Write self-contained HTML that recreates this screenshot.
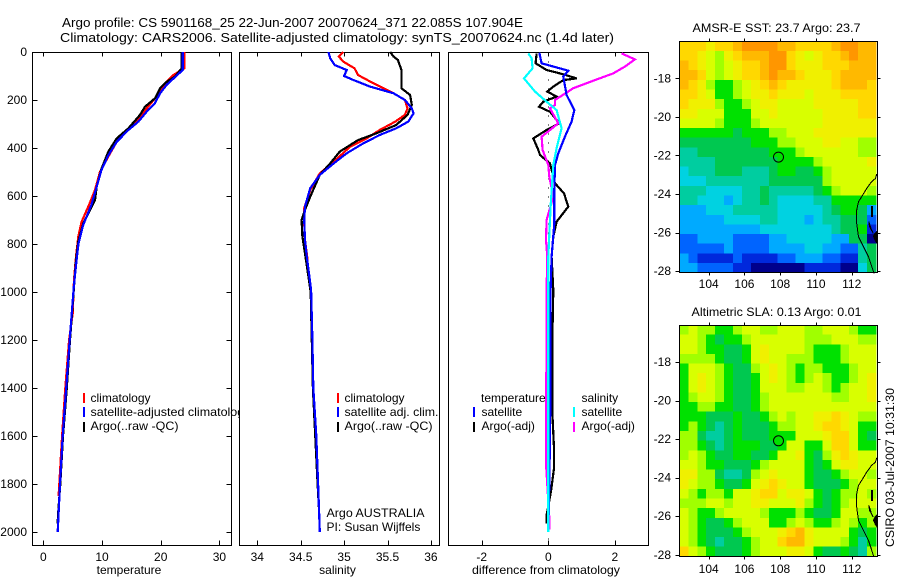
<!DOCTYPE html>
<html>
<head>
<meta charset="utf-8">
<title>Argo profile chart</title>
<style>
html,body{margin:0;padding:0;background:#fff;width:900px;height:580px;overflow:hidden}
svg{display:block}
text{font-family:"Liberation Sans",sans-serif;font-size:12px;fill:#000}
text.big{font-size:13px}
</style>
</head>
<body>
<svg id="chart" xmlns="http://www.w3.org/2000/svg" width="900" height="580" viewBox="0 0 900 580">
  <rect x="0" y="0" width="900" height="580" fill="#fff"/>
  <text class="big" x="62" y="27" textLength="461" lengthAdjust="spacingAndGlyphs">Argo profile: CS 5901168_25 22-Jun-2007 20070624_371 22.085S 107.904E</text>
  <text class="big" x="60" y="42" textLength="554" lengthAdjust="spacingAndGlyphs">Climatology: CARS2006. Satellite-adjusted climatology: synTS_20070624.nc (1.4d later)</text>

  <g id="tempPanel">
    <g id="tempAxes"></g>
    <g id="tempSeries"></g>
    <g>
      <rect x="83" y="393" width="2" height="10" fill="#ff0000"/>
      <text x="90.5" y="402">climatology</text>
      <rect x="83" y="407" width="2" height="10" fill="#0000ff"/>
      <text x="90.5" y="416" textLength="160" lengthAdjust="spacingAndGlyphs">satellite-adjusted climatology</text>
      <rect x="83" y="422" width="2" height="10" fill="#000000"/>
      <text x="90.5" y="430" textLength="88" lengthAdjust="spacingAndGlyphs">Argo(..raw -QC)</text>
    </g>
    <text x="129" y="574" text-anchor="middle">temperature</text>
  </g>

  <g id="salPanel">
    <rect x="239" y="46" width="210" height="512" fill="#fff"/>
    <g id="salAxes"></g>
    <g id="salSeries"></g>
    <g>
      <rect x="337" y="393" width="2" height="10" fill="#ff0000"/>
      <text x="344.5" y="402">climatology</text>
      <rect x="337" y="407" width="2" height="10" fill="#0000ff"/>
      <text x="344.5" y="416" textLength="94" lengthAdjust="spacingAndGlyphs">satellite adj. clim.</text>
      <rect x="337" y="422" width="2" height="10" fill="#000000"/>
      <text x="344.5" y="430" textLength="88" lengthAdjust="spacingAndGlyphs">Argo(..raw -QC)</text>
    </g>
    <text x="326.5" y="517" textLength="98" lengthAdjust="spacingAndGlyphs">Argo AUSTRALIA</text>
    <text x="326.5" y="531">PI: Susan Wijffels</text>
    <text x="337.5" y="574" text-anchor="middle">salinity</text>
  </g>

  <g id="diffPanel">
    <g id="diffAxes"></g>
    <g id="diffSeries"></g>
    <g>
      <text x="481" y="402">temperature</text>
      <rect x="473" y="407" width="2" height="10" fill="#0000ff"/>
      <text x="481.5" y="416">satellite</text>
      <rect x="473" y="422" width="2" height="10" fill="#000000"/>
      <text x="481.5" y="430">Argo(-adj)</text>
      <text x="581.5" y="402">salinity</text>
      <rect x="573" y="407" width="2" height="10" fill="#00ffff"/>
      <text x="581.5" y="416">satellite</text>
      <rect x="573" y="422" width="2" height="10" fill="#ff00ff"/>
      <text x="581.5" y="430">Argo(-adj)</text>
    </g>
    <text x="546" y="574" text-anchor="middle" textLength="148" lengthAdjust="spacingAndGlyphs">difference from climatology</text>
  </g>

  <g id="sstMap">
    <text x="692.5" y="32" textLength="168" lengthAdjust="spacingAndGlyphs">AMSR-E SST: 23.7 Argo: 23.7</text>
  </g>
  <g id="slaMap">
    <text x="691.5" y="316" textLength="170" lengthAdjust="spacingAndGlyphs">Altimetric SLA: 0.13 Argo: 0.01</text>
  </g>
  <text transform="translate(894,547) rotate(-90)" textLength="159" lengthAdjust="spacingAndGlyphs">CSIRO 03-Jul-2007 10:31:30</text>
</svg>

<script>
/* ---------- profile axes ---------- */
const depthTicks = [0, 200, 400, 600, 800, 1000, 1200, 1400, 1600, 1800, 2000];
const tempTicks = [0, 10, 20, 30];
const salTicks = [34, 34.5, 35, 35.5, 36];
const salTickLabels = ['34', '34.5', '35', '35.5', '36'];
const diffTicks = [-2, 0, 2];

/* ---------- temperature panel ---------- */
const tempClimDepth = [0, 68, 96, 131, 193, 269, 304, 374, 436, 499, 575, 644, 707, 769, 853, 950, 1089, 1200, 1400, 1600, 1800, 1850];
const tempClimValue = [24.03, 24.03, 22.16, 20.74, 19.03, 16.48, 15.06, 12.5, 11.08, 9.66, 8.8, 7.67, 6.53, 5.97, 5.57, 5.23, 5.0, 4.4, 3.75, 3.2, 2.72, 2.6];
const tempArgoDepth = [0, 68, 103, 124, 151, 193, 228, 262, 318, 360, 415, 485, 561, 617, 658, 714, 790, 867, 978, 1200, 1400, 1600, 1800, 1930, 1965];
const tempArgoValue = [23.58, 23.58, 22.44, 21.02, 19.89, 19.03, 17.33, 16.48, 14.49, 12.5, 11.08, 9.94, 9.09, 8.8, 7.95, 6.82, 5.97, 5.57, 5.23, 4.55, 4.0, 3.35, 2.9, 2.5, 2.45];
const tempSatDepth = [0, 75, 110, 137, 172, 214, 249, 290, 325, 374, 429, 492, 561, 637, 721, 797, 881, 978, 1200, 1400, 1600, 1800, 2000];
const tempSatValue = [23.75, 23.75, 22.2, 21, 19.9, 19, 17.6, 16.2, 14.5, 12.5, 11.1, 9.9, 9.1, 8.2, 6.8, 6, 5.6, 5.2, 4.5, 3.9, 3.3, 2.85, 2.45];

/* ---------- salinity panel ---------- */
const salClimDepth = [0, 19, 40, 68, 96, 131, 172, 200, 235, 262, 290, 325, 360, 394, 457, 506, 575, 651, 714, 783, 867];
const salClimValue = [34.99, 34.94, 34.99, 35.12, 35.16, 35.34, 35.57, 35.70, 35.73, 35.70, 35.59, 35.41, 35.26, 35.07, 34.88, 34.72, 34.61, 34.54, 34.54, 34.55, 34.58];
const salArgoDepth = [0, 19, 33, 75, 110, 151, 179, 221, 262, 304, 339, 367, 415, 464, 512, 603, 658, 700, 769, 839, 1000, 1400, 1800, 1900];
const salArgoValue = [35.53, 35.57, 35.62, 35.66, 35.66, 35.66, 35.76, 35.78, 35.73, 35.60, 35.37, 35.16, 34.95, 34.84, 34.72, 34.61, 34.55, 34.51, 34.52, 34.55, 34.615, 34.64, 34.695, 34.71];
const salSatDepth = [0, 26, 54, 75, 100, 117, 144, 172, 200, 235, 256, 290, 318, 346, 381, 422, 464, 512, 568, 644, 700, 783, 853, 936, 992, 1200, 1400, 1600, 1800, 2000];
const salSatValue = [34.82, 34.84, 34.89, 35.03, 35.00, 35.11, 35.30, 35.57, 35.70, 35.78, 35.80, 35.74, 35.60, 35.41, 35.22, 35.03, 34.88, 34.72, 34.61, 34.55, 34.54, 34.55, 34.57, 34.60, 34.62, 34.635, 34.645, 34.68, 34.70, 34.72];

/* ---------- difference panel ---------- */
const diffTempArgoDepth = [6, 47, 75, 93, 110, 117, 144, 165, 186, 207, 228, 249, 297, 325, 360, 408, 429, 464, 547, 589, 644, 707, 769, 853, 992, 1200, 1500, 1650, 1735, 1830, 1930, 1964];
const diffTempArgoValue = [-0.35, -0.38, -0.05, 0.45, 0.85, 0.45, 0.15, -0.03, 0.25, -0.15, -0.28, 0.05, 0.33, -0.05, -0.45, -0.30, -0.25, 0.05, 0.20, 0.47, 0.60, 0.25, 0.15, 0.10, 0.15, 0.12, 0.12, 0.17, 0.17, 0.08, -0.05, -0.05];
const diffTempSatDepth = [3, 47, 78, 103, 179, 242, 290, 353, 422, 471, 575, 714, 853, 992, 1300, 1600, 1800, 2000];
const diffTempSatValue = [-0.27, -0.20, 0.60, 0.45, 0.55, 0.78, 0.70, 0.50, 0.30, 0.20, 0.18, 0.18, 0.10, 0.07, 0.07, 0.05, 0.03, 0.0];
const diffSalArgoDepth = [6, 31, 61, 89, 117, 151, 200, 221, 235, 297, 353, 408, 471, 519, 603, 700, 783, 853, 990, 1415, 1735, 1940, 1990];
const diffSalArgoValue = [2.2, 2.6, 2.3, 1.95, 1.4, 0.75, 0.2, 0.2, 0.05, 0.3, -0.2, -0.17, 0, 0.03, 0.15, -0.05, -0.07, -0.03, -0.05, -0.06, -0.06, 0.03, 0.03];
const diffSalSatDepth = [6, 26, 68, 110, 165, 207, 242, 318, 401, 471, 644, 853, 992, 1500, 2000];
const diffSalSatValue = [-0.60, -0.50, -0.47, -0.73, -0.40, -0.05, 0.25, 0.40, 0.25, 0.15, 0.07, 0, 0, 0, 0];

/* ---------- maps ---------- */
const lonTicks = [104, 106, 108, 110, 112];
const latTicks = [-18, -20, -22, -24, -26, -28];
const argoLon = [107.904];
const argoLat = [-22.085];
const coastLon = [113.4, 113.33, 113.12, 112.84, 112.56, 112.38, 112.28, 112.28, 112.38, 112.66, 112.94, 113.25];
const coastLat = [-22.97, -23.19, -23.36, -23.71, -24.14, -24.40, -24.83, -25.53, -26.22, -26.74, -27.26, -28.12];
const islandOneLon = [113.4, 113.3, 113.22, 113.32, 113.38];
const islandOneLat = [-25.95, -26.05, -26.2, -26.42, -26.5];
const islandTwoLon = [112.95, 113.0, 113.12, 113.2, 113.1, 113.0];
const islandTwoLat = [-25.44, -25.7, -25.9, -26.04, -25.85, -25.55];
const islandThreeLon = [113.1, 113.16, 113.16, 113.1];
const islandThreeLat = [-24.66, -24.66, -25.18, -25.18];

/* colour levels, one row per half-degree of latitude */
const sstLevels = [
[11,11,11,10,11,11,12,13,13,13,13,12,12,11,11,11,11,12,13,13,12,12],
[11,11,10,9,8,10,11,12,12,12,13,13,11,10,9,10,11,11,12,13,12,12],
[12,11,10,9,8,9,10,11,11,12,13,13,11,10,10,10,11,11,11,12,12,12],
[12,12,11,9,8,9,10,11,11,12,13,12,12,11,10,10,10,11,12,12,12,12],
[12,11,10,8,7,7,8,9,10,11,12,11,10,10,10,10,10,11,12,12,12,11],
[11,11,10,9,7,7,8,9,10,10,11,10,10,10,9,10,10,10,11,11,11,11],
[11,10,10,10,8,7,7,8,9,10,10,9,9,9,9,10,10,10,10,10,11,11],
[10,10,9,9,9,7,7,7,9,9,10,9,9,9,9,9,10,10,10,10,11,11],
[9,9,9,9,8,7,7,7,8,9,9,9,9,9,9,9,10,10,10,10,10,10],
[7,7,7,7,7,7,6,7,7,7,8,8,9,9,9,10,10,10,10,10,10,10],
[6,6,6,6,6,6,6,6,7,7,7,8,8,9,9,9,10,10,9,9,8,8],
[5,5,6,6,6,6,6,6,6,6,7,7,7,8,9,9,9,9,9,9,8,8],
[5,5,5,5,6,6,6,6,6,6,6,7,7,7,7,8,9,9,9,9,9,10],
[4,5,5,5,6,6,6,5,5,5,6,7,7,6,6,7,8,9,9,9,9,9],
[4,4,4,5,5,5,5,5,5,5,6,6,6,6,6,6,8,9,9,9,9,9],
[5,5,5,4,4,4,4,5,5,6,5,5,5,5,5,6,7,8,9,9,9,8],
[5,5,4,4,4,3,4,5,5,6,5,4,4,4,4,5,5,7,7,7,7,7],
[3,3,3,4,4,4,5,5,5,5,5,4,4,4,4,4,5,6,7,7,6,3],
[3,3,3,3,3,4,4,4,4,5,5,4,4,4,3,4,5,5,6,6,6,2],
[3,3,3,3,3,3,3,3,3,4,4,4,4,4,4,4,4,5,6,6,7,1],
[2,2,3,3,3,3,2,2,2,2,3,3,4,4,4,4,4,3,3,6,6,0],
[2,2,2,2,2,3,2,2,2,2,3,3,3,3,4,4,3,3,2,2,5,6],
[3,2,1,1,1,1,2,1,1,1,1,2,2,3,3,3,2,2,1,1,5,6],
[3,3,2,2,2,2,1,1,0,0,0,0,0,0,1,1,1,1,0,0,4,6]
];
const slaLevels = [
[8,9,8,8,7,7,8,9,9,8,8,9,9,9,8,8,9,9,9,8,7,7],
[9,9,8,7,6,7,7,8,9,9,9,9,9,9,8,8,8,9,9,9,8,8],
[9,9,8,7,7,6,6,7,9,10,9,9,9,9,8,7,7,7,8,9,9,9],
[8,8,8,8,7,6,6,7,9,10,9,9,8,8,8,7,7,7,8,9,9,9],
[7,9,9,9,8,7,6,6,8,9,10,9,8,7,8,8,7,7,7,8,9,9],
[7,9,10,9,8,7,6,6,7,9,10,9,8,7,8,9,8,7,7,8,9,10],
[7,9,10,9,8,7,6,6,7,9,9,9,8,8,9,9,8,7,8,9,9,10],
[7,8,9,9,8,7,6,6,7,8,9,9,9,9,9,9,9,8,8,9,9,10],
[7,7,8,8,7,7,6,6,7,8,9,9,9,9,9,9,9,9,9,9,9,9],
[7,7,7,6,6,6,7,6,6,7,8,9,8,9,9,10,10,11,10,9,8,8],
[7,8,7,6,5,6,7,6,6,6,7,8,8,9,9,10,11,11,10,9,7,7],
[8,8,6,5,5,6,7,6,6,6,7,7,7,9,9,9,10,11,11,9,7,6],
[8,8,7,6,5,6,7,7,7,6,6,7,9,9,7,7,9,11,11,9,7,7],
[8,9,8,7,6,6,7,7,6,6,7,9,9,10,7,6,8,10,11,10,9,9],
[9,9,8,7,7,6,6,6,7,8,9,9,9,9,7,6,7,9,10,10,9,9],
[10,10,8,8,6,5,5,6,8,9,10,9,9,9,7,6,6,7,8,9,9,8],
[10,9,8,8,7,6,6,7,9,10,11,10,9,9,7,6,6,6,7,8,9,9],
[9,8,7,8,8,7,9,9,10,11,11,9,10,10,9,7,6,7,8,8,9,8],
[8,8,8,9,9,8,9,9,10,10,9,9,9,10,8,7,6,7,8,9,9,9],
[9,8,7,7,8,9,9,9,9,8,7,7,7,8,7,6,6,7,9,9,8,8],
[9,8,7,6,6,7,8,9,9,9,7,7,8,9,8,7,7,8,9,8,7,8],
[9,8,7,6,6,6,7,8,9,9,9,10,11,12,10,9,9,9,9,7,6,7],
[9,8,7,6,5,6,6,7,8,9,9,11,12,12,10,9,9,9,8,7,5,7],
[11,9,8,7,6,6,6,7,8,9,9,9,10,10,9,7,6,6,7,6,5,8]
];
const colourScale = ['#00008c','#0028dc','#0064ff','#00aaff','#00d2e1','#00cda0','#00c850','#00e100','#a0ff00','#d8ff00','#f0f000','#ffd800','#ffb900','#ff9600'];

/* ---------- drawing ---------- */
const NS = 'http://www.w3.org/2000/svg';
const depthY = d => 52 + d * 0.24;
const tempX = v => 43.3 + v * 5.87;
const salX = v => 257.3 + (v - 34) * 86.8;
const diffX = v => 548.3 + v * 33.3;

function make(parent, tag, name) {
  const el = document.createElementNS(NS, tag);
  
  
  parent.appendChild(el);
  return el;
}
function seg(parent, name, x1, y1, x2, y2) {
  const l = make(parent, 'line', name);
  l.setAttribute('x1', x1);
  l.setAttribute('y1', y1);
  l.setAttribute('x2', x2);
  l.setAttribute('y2', y2);
  l.setAttribute('stroke', '#000');
  l.setAttribute('stroke-width', 1);
  l.setAttribute('shape-rendering', 'crispEdges');
  return l;
}
function label(parent, name, str, x, y, anchor) {
  const t = make(parent, 'text', name);
  t.setAttribute('x', x);
  t.setAttribute('y', y);
  t.setAttribute('text-anchor', anchor);
  t.textContent = str;
  return t;
}
function frame(parent, name, x, y, w, h) {
  const r = make(parent, 'rect', name);
  r.setAttribute('x', x);
  r.setAttribute('y', y);
  r.setAttribute('width', w);
  r.setAttribute('height', h);
  r.setAttribute('fill', 'none');
  r.setAttribute('stroke', '#000');
  r.setAttribute('stroke-width', 1);
  r.setAttribute('shape-rendering', 'crispEdges');
  return r;
}
function series(parent, name, xFn, depths, values, colour) {
  const p = make(parent, 'polyline', name);
  const pts = depths.map((d, i) => xFn(values[i]).toFixed(1) + ',' + depthY(d).toFixed(1));
  p.setAttribute('points', pts.join(' '));
  p.setAttribute('fill', 'none');
  p.setAttribute('stroke', colour);
  p.setAttribute('stroke-width', 2.2);
  p.setAttribute('shape-rendering', 'crispEdges');
  return p;
}

const panelTop = 52.5, panelBottom = 545.5;

/* temperature axes */
const tAxes = document.getElementById('tempAxes');
frame(tAxes, 'temperature-plot-frame', 32.5, panelTop, 199, panelBottom - panelTop);
depthTicks.forEach(d => {
  const y = Math.round(depthY(d)) + 0.5;
  if (d > 0) seg(tAxes, 'depth-tick-left', 32.5, y, 37.5, y);
  if (d > 0) seg(tAxes, 'depth-tick-right', 226.5, y, 231.5, y);
  label(tAxes, 'depth-tick-label', String(d), 27, depthY(d) + 4, 'end');
});
tempTicks.forEach(v => {
  const x = Math.round(tempX(v)) + 0.5;
  seg(tAxes, 'temperature-tick-bottom', x, panelBottom - 5, x, panelBottom);
  seg(tAxes, 'temperature-tick-top', x, panelTop, x, panelTop + 4);
  label(tAxes, 'temperature-tick-label', String(v), tempX(v), 561, 'middle');
});
const tS = document.getElementById('tempSeries');
series(tS, 'temperature-climatology-line', tempX, tempClimDepth, tempClimValue, '#ff0000');
series(tS, 'temperature-argo-line', tempX, tempArgoDepth, tempArgoValue, '#000000');
series(tS, 'temperature-satellite-line', tempX, tempSatDepth, tempSatValue, '#0000ff');

/* salinity axes */
const sAxes = document.getElementById('salAxes');
frame(sAxes, 'salinity-plot-frame', 239.5, panelTop, 200, panelBottom - panelTop);
salTicks.forEach((v, i) => {
  const x = Math.round(salX(v)) + 0.5;
  seg(sAxes, 'salinity-tick-bottom', x, panelBottom - 5, x, panelBottom);
  seg(sAxes, 'salinity-tick-top', x, panelTop, x, panelTop + 4);
  label(sAxes, 'salinity-tick-label', salTickLabels[i], salX(v), 561, 'middle');
});
const sS = document.getElementById('salSeries');
series(sS, 'salinity-climatology-line', salX, salClimDepth, salClimValue, '#ff0000');
series(sS, 'salinity-argo-line', salX, salArgoDepth, salArgoValue, '#000000');
series(sS, 'salinity-satellite-line', salX, salSatDepth, salSatValue, '#0000ff');

/* difference axes */
const dAxes = document.getElementById('diffAxes');
frame(dAxes, 'difference-plot-frame', 448.5, panelTop, 200, panelBottom - panelTop);
diffTicks.forEach(v => {
  const x = Math.round(diffX(v)) + 0.5;
  seg(dAxes, 'difference-tick-bottom', x, panelBottom - 5, x, panelBottom);
  seg(dAxes, 'difference-tick-top', x, panelTop, x, panelTop + 4);
  label(dAxes, 'difference-tick-label', String(v), diffX(v), 561, 'middle');
});
const zero = seg(dAxes, 'zero-reference-line', Math.round(diffX(0)) + 0.5, panelTop, Math.round(diffX(0)) + 0.5, panelBottom);
zero.setAttribute('stroke-dasharray', '1 8');
const dS = document.getElementById('diffSeries');
series(dS, 'difference-temperature-argo-line', diffX, diffTempArgoDepth, diffTempArgoValue, '#000000');
series(dS, 'difference-salinity-argo-line', diffX, diffSalArgoDepth, diffSalArgoValue, '#ff00ff');
series(dS, 'difference-temperature-satellite-line', diffX, diffTempSatDepth, diffTempSatValue, '#0000ff');
series(dS, 'difference-salinity-satellite-line', diffX, diffSalSatDepth, diffSalSatValue, '#00ffff');

/* maps */
function polygon(parent, name, lons, lats, X, Y, fill) {
  const p = make(parent, 'polygon', name);
  p.setAttribute('points', lons.map((v, i) => X(v).toFixed(1) + ',' + Y(lats[i]).toFixed(1)).join(' '));
  p.setAttribute('fill', fill);
  p.setAttribute('stroke', '#000');
  p.setAttribute('stroke-width', 1);
  p.setAttribute('shape-rendering', 'crispEdges');
  return p;
}
function drawMap(groupId, prefix, levels, top, bottom, lat18Y, lonLabelY, markerFill) {
  const g = document.getElementById(groupId);
  const left = 679.5, right = 877.5;
  const X = lon => 708.7 + (lon - 104) * 17.875;
  const Y = lat => lat18Y + (-18 - lat) * 19.28;
  const lon0 = 102.36, lat0 = -16.08;
  const cells = make(g, 'g', prefix + '-heatmap');
  levels.forEach((row, r) => {
    row.forEach((lev, c) => {
      const x0 = X(lon0 + c * 0.5), x1 = Math.min(X(lon0 + (c + 1) * 0.5), right);
      const y0 = Y(lat0 - r * 0.5), y1 = Math.min(Y(lat0 - (r + 1) * 0.5), bottom);
      const cell = make(cells, 'rect', prefix + '-cell');
      cell.setAttribute('x', x0.toFixed(2));
      cell.setAttribute('y', y0.toFixed(2));
      cell.setAttribute('width', (x1 - x0 + 0.4).toFixed(2));
      cell.setAttribute('height', (y1 - y0 + 0.4).toFixed(2));
      cell.setAttribute('fill', colourScale[Math.max(0, Math.min(colourScale.length - 1, Math.round(lev)))]);
      cell.setAttribute('shape-rendering', 'crispEdges');
    });
  });
  const coast = make(g, 'polyline', prefix + '-coastline');
  coast.setAttribute('points', coastLon.map((v, i) => X(v).toFixed(1) + ',' + Y(coastLat[i]).toFixed(1)).join(' '));
  coast.setAttribute('fill', 'none');
  coast.setAttribute('stroke', '#000');
  coast.setAttribute('stroke-width', 1);
  coast.setAttribute('shape-rendering', 'crispEdges');
  polygon(g, prefix + '-island-south', islandOneLon, islandOneLat, X, Y, '#000');
  polygon(g, prefix + '-island-strip', islandTwoLon, islandTwoLat, X, Y, '#ffd0c0');
  polygon(g, prefix + '-island-north', islandThreeLon, islandThreeLat, X, Y, '#000');
  frame(g, prefix + '-frame', left, top, right - left, bottom - top);
  lonTicks.forEach(v => {
    const x = Math.round(X(v)) + 0.5;
    seg(g, prefix + '-lon-tick-top', x, top - 3, x, top);
    seg(g, prefix + '-lon-tick-bottom', x, bottom, x, bottom + 3);
    label(g, prefix + '-lon-tick-label', String(v), X(v), lonLabelY, 'middle');
  });
  latTicks.forEach(v => {
    const y = Math.round(Y(v)) + 0.5;
    seg(g, prefix + '-lat-tick-left', left - 4, y, left, y);
    seg(g, prefix + '-lat-tick-right', right, y, right + 3, y);
    label(g, prefix + '-lat-tick-label', String(v), 671, Y(v) + 4, 'end');
  });
  const m = make(g, 'circle', prefix + '-argo-position-marker');
  m.setAttribute('cx', X(argoLon[0]).toFixed(1));
  m.setAttribute('cy', Y(argoLat[0]).toFixed(1));
  m.setAttribute('r', 5);
  m.setAttribute('fill', markerFill);
  m.setAttribute('stroke', '#000');
  m.setAttribute('stroke-width', 1);
}
drawMap('sstMap', 'sst-map', sstLevels, 41.5, 272.5, 78.3, 288, 'none');
drawMap('slaMap', 'sla-map', slaLevels, 325.5, 556.5, 362, 573, colourScale[7]);
</script>
</body>
</html>
